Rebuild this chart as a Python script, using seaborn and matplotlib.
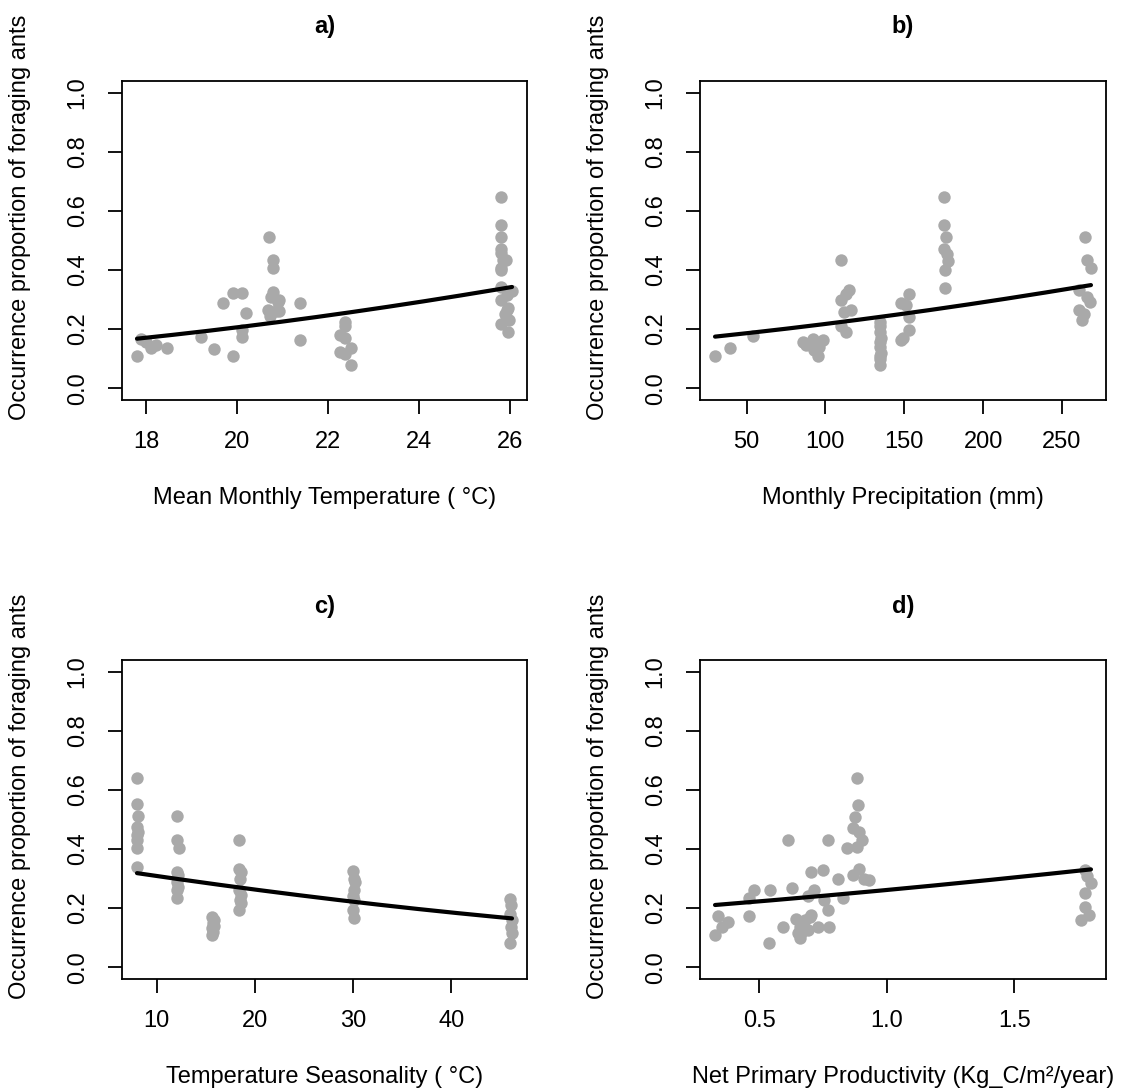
import numpy as np
import pandas as pd
import matplotlib
matplotlib.use("Agg")
import matplotlib.pyplot as plt
import seaborn as sns

# ---- observations: occurrence proportion vs. each climatic predictor ----
temp_x = [17.80, 17.89, 18.00, 18.11, 18.22, 18.46, 19.20, 19.50, 19.70, 19.90,
          19.90, 20.10, 20.20, 20.10, 20.10, 20.70, 20.79, 20.79, 20.78, 20.75,
          20.90, 20.68, 20.86, 20.72, 20.93, 20.93, 21.39, 21.39, 22.38, 22.38,
          22.27, 22.38, 22.50, 22.27, 22.38, 22.50, 25.79, 25.79, 25.80, 25.79,
          25.80, 25.85, 25.90, 25.80, 25.80, 25.80, 26.04, 25.93, 25.80, 25.95,
          25.93, 25.88, 25.98, 25.80, 25.95]
temp_y = [0.108, 0.168, 0.157, 0.135, 0.146, 0.137, 0.174, 0.133, 0.290, 0.108,
          0.323, 0.323, 0.255, 0.174, 0.197, 0.511, 0.435, 0.407, 0.327, 0.310,
          0.293, 0.265, 0.260, 0.243, 0.300, 0.260, 0.287, 0.163, 0.225, 0.210,
          0.180, 0.170, 0.135, 0.123, 0.115, 0.080, 0.647, 0.553, 0.512, 0.470,
          0.457, 0.435, 0.433, 0.407, 0.400, 0.343, 0.330, 0.315, 0.298, 0.270,
          0.264, 0.250, 0.230, 0.216, 0.190]

prec_x = [30.0, 39.7, 53.8, 85.5, 88.0, 91.9, 93.0, 95.0, 96.0, 98.2,
          109.9, 109.9, 115.0, 113.0, 112.0, 116.0, 110.0, 113.0,
          134.8, 134.8, 134.5, 135.0, 134.6, 134.8, 135.0, 134.5, 134.8, 134.8,
          147.9, 149.0, 153.0, 153.0, 148.0, 153.0, 151.0,
          175.4, 175.4, 176.5, 175.5, 177.0, 178.0, 176.0, 176.0,
          264.8, 265.6, 268.4, 261.0, 266.0, 268.0, 261.0, 264.0, 263.0]
prec_y = [0.108, 0.135, 0.175, 0.158, 0.145, 0.168, 0.130, 0.108, 0.140, 0.163,
          0.433, 0.300, 0.332, 0.318, 0.259, 0.264, 0.210, 0.190,
          0.225, 0.210, 0.190, 0.170, 0.155, 0.140, 0.120, 0.110, 0.100, 0.080,
          0.163, 0.170, 0.197, 0.240, 0.287, 0.320, 0.280,
          0.647, 0.553, 0.512, 0.470, 0.455, 0.430, 0.400, 0.338,
          0.512, 0.433, 0.407, 0.332, 0.310, 0.293, 0.264, 0.250, 0.230]

seas_x = [8.0] * 9 + [12.1] * 9 + [15.6] * 7 + [18.4] * 9 + [30.0] * 8 + [46.0] * 7
seas_y = [0.640, 0.552, 0.511, 0.474, 0.458, 0.447, 0.430, 0.402, 0.340,
          0.511, 0.430, 0.402, 0.323, 0.312, 0.290, 0.270, 0.261, 0.233,
          0.169, 0.160, 0.149, 0.140, 0.132, 0.120, 0.109,
          0.430, 0.334, 0.323, 0.300, 0.261, 0.244, 0.227, 0.216, 0.194,
          0.326, 0.300, 0.289, 0.261, 0.240, 0.227, 0.194, 0.166,
          0.230, 0.210, 0.180, 0.160, 0.137, 0.115, 0.081]
# small spread within each seasonality group
seas_dx = [0.0, 0.0, 0.1, 0.0, 0.1, 0.0, 0.0, 0.0, 0.0,
           0.0, 0.0, 0.2, 0.0, 0.1, 0.0, 0.1, 0.0, 0.0,
           0.0, 0.2, 0.1, 0.2, 0.0, 0.1, 0.0,
           0.0, 0.0, 0.2, 0.1, 0.0, 0.2, 0.1, 0.2, 0.0,
           0.0, 0.1, 0.2, 0.1, 0.0, 0.1, 0.0, 0.1,
           0.0, 0.1, 0.0, 0.2, 0.1, 0.2, 0.0]

npp_x = [0.327, 0.339, 0.354, 0.376, 0.461, 0.461, 0.481, 0.537, 0.542, 0.595,
         0.611, 0.628, 0.644, 0.651, 0.660, 0.665, 0.680, 0.690, 0.703, 0.716,
         0.703, 0.690, 0.729, 0.749, 0.755, 0.768, 0.768, 0.775, 0.807, 0.829,
         0.846, 0.866, 0.876, 0.885, 0.889, 0.891, 0.903, 0.866, 0.891, 0.910,
         0.931, 0.885, 0.660, 0.700,
         1.775, 1.785, 1.800, 1.775, 1.775, 1.794, 1.760]
npp_y = [0.109, 0.173, 0.137, 0.154, 0.173, 0.233, 0.261, 0.081, 0.263, 0.137,
         0.430, 0.267, 0.162, 0.115, 0.137, 0.115, 0.160, 0.125, 0.323, 0.261,
         0.177, 0.240, 0.137, 0.329, 0.227, 0.430, 0.194, 0.135, 0.300, 0.233,
         0.402, 0.470, 0.509, 0.407, 0.548, 0.458, 0.430, 0.312, 0.334, 0.300,
         0.295, 0.640, 0.100, 0.170,
         0.329, 0.310, 0.284, 0.250, 0.205, 0.177, 0.160]

# logistic model coefficients (intercept, slope) for each predictor
coef_temp = (-3.659, 0.1155)
coef_prec = (-1.671, 0.003904)
coef_seas = (-0.581, -0.0225)
coef_npp = (-1.459, 0.420)

panels = [
    ("a)", "Mean Monthly Temperature ( °C)", np.array(temp_x), temp_y, coef_temp, [18, 20, 22, 24, 26]),
    ("b)", "Monthly Precipitation (mm)", np.array(prec_x), prec_y, coef_prec, [50, 100, 150, 200, 250]),
    ("c)", "Temperature Seasonality ( °C)", np.array(seas_x) + np.array(seas_dx), seas_y, coef_seas, [10, 20, 30, 40]),
    ("d)", "Net Primary Productivity (Kg_C/m²/year)", np.array(npp_x), npp_y, coef_npp, [0.5, 1.0, 1.5]),
]

sns.set_theme(style="ticks")
plt.rcParams["font.family"] = ["Liberation Sans", "DejaVu Sans"]
plt.rcParams["text.color"] = "black"

FS = 17
fig = plt.figure(figsize=(11.41, 10.92), dpi=100)
W, H = 1141, 1092
boxes = [(122, 81, 527, 400), (700, 81, 1106, 400),
         (122, 660, 527, 979), (700, 660, 1106, 979)]

yticks = [0.0, 0.2, 0.4, 0.6, 0.8, 1.0]
for (title, xlabel, x, y, coef, xticks), (l, t, r, b) in zip(panels, boxes):
    ax = fig.add_axes([l / W, 1 - b / H, (r - l) / W, (b - t) / H])
    df = pd.DataFrame({"x": x, "y": y})
    sns.scatterplot(data=df, x="x", y="y", ax=ax, color="#A9A9A9",
                    s=80, linewidth=0, zorder=2)
    xs = np.linspace(x.min(), x.max(), 200)
    pred = 1 / (1 + np.exp(-(coef[0] + coef[1] * xs)))
    sns.lineplot(x=xs, y=pred, ax=ax, color="black", linewidth=3, zorder=3)

    rng = x.max() - x.min()
    ax.set_xlim(x.min() - 0.04 * rng, x.max() + 0.04 * rng)
    ax.set_ylim(-0.04, 1.04)
    ax.set_xticks(xticks)
    ax.set_xticklabels([f"{v:g}" if title != "d)" else f"{v:.1f}" for v in xticks])
    ax.set_yticks(yticks)
    ax.set_yticklabels([f"{v:.1f}" for v in yticks])
    for sp in ax.spines.values():
        sp.set_visible(True)
        sp.set_linewidth(1.3)
        sp.set_color("black")
    ax.tick_params(axis="both", length=10, width=1.3, color="black",
                   labelsize=FS, labelcolor="black")
    ax.tick_params(axis="x", pad=12)
    ax.tick_params(axis="y", pad=14, labelrotation=90)
    for lab in ax.get_yticklabels():
        lab.set_va("center")

    ax.set_xlabel(xlabel, fontsize=FS, color="black")
    ax.set_ylabel("Occurrence proportion of foraging ants", fontsize=FS, color="black")
    ax.xaxis.set_label_coords(0.5, -98 / (b - t))
    ax.xaxis.label.set_va("center")
    ax.yaxis.set_label_coords(-102 / (r - l), 0.572)
    ax.yaxis.label.set_va("center")
    ax.text(0.5, 1 + 54 / (b - t), title, transform=ax.transAxes,
            ha="center", va="center", fontsize=FS, fontweight="bold", color="black")

fig.savefig("out.png", dpi=100, facecolor="white")
